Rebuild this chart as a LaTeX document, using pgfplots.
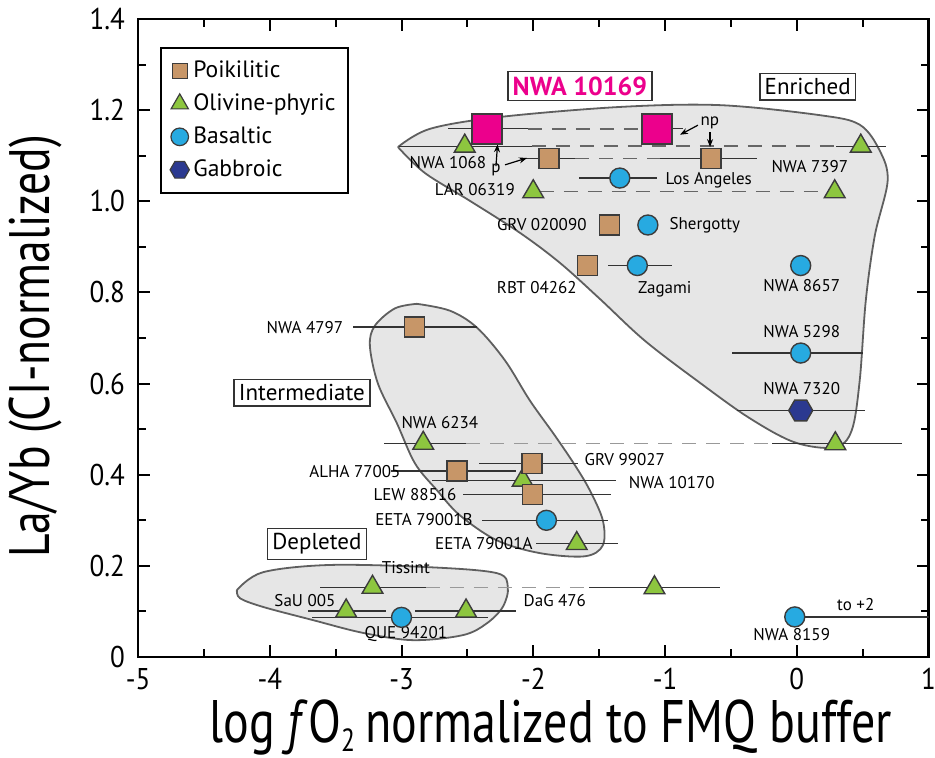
\documentclass[border=0pt]{standalone}
\usepackage{fontspec}
\setmainfont{PT Sans}
\newfontfamily\condfont[FakeStretch=0.9]{PT Sans}
\newfontfamily\labfont[FakeStretch=0.8]{PT Sans}
\usepackage{pgfplots}
\pgfplotsset{compat=1.18}
\usetikzlibrary{arrows.meta}
\definecolor{tanc}{RGB}{199,150,104}
\definecolor{greenc}{RGB}{141,198,63}
\definecolor{bluec}{RGB}{39,170,225}
\definecolor{navyc}{RGB}{43,57,144}
\definecolor{pinkc}{RGB}{236,0,140}
\definecolor{regionfill}{RGB}{230,230,230}
\definecolor{regionedge}{RGB}{95,95,95}
\definecolor{outl}{RGB}{60,60,60}
\pgfdeclareplotmark{hexagon}{%
  \pgfpathmoveto{\pgfpointpolar{0}{\pgfplotmarksize}}%
  \pgfpathlineto{\pgfpointpolar{60}{\pgfplotmarksize}}%
  \pgfpathlineto{\pgfpointpolar{120}{\pgfplotmarksize}}%
  \pgfpathlineto{\pgfpointpolar{180}{\pgfplotmarksize}}%
  \pgfpathlineto{\pgfpointpolar{240}{\pgfplotmarksize}}%
  \pgfpathlineto{\pgfpointpolar{300}{\pgfplotmarksize}}%
  \pgfpathclose
  \pgfusepathqfillstroke}
\begin{document}
\begin{tikzpicture}
\path[use as bounding box] (-69pt,-50pt) rectangle (398.5pt,328.5pt);
\begin{axis}[
  at={(0,0)}, anchor=south west,
  scale only axis, width=395.25pt, height=319pt,
  xmin=-5, xmax=1, ymin=0, ymax=1.4,
  xtick={-5,-4,-3,-2,-1,0,1},
  xticklabels={-5,-4,-3,-2,-1,0,1},
  ytick={0,0.2,0.4,0.6,0.8,1.0,1.2,1.4},
  yticklabels={0,0.2,0.4,0.6,0.8,1.0,1.2,1.4},
  minor x tick num=1, minor y tick num=1,
  tick align=inside,
  major tick length=6pt, minor tick length=4pt,
  axis line style={line width=1.1pt},
  tick style={line width=1pt, black},
  ticklabel style={font=\condfont\fontsize{15}{15}\selectfont},
  xticklabel style={yshift=-2pt},
  yticklabel style={xshift=-3pt},
  xlabel={log \textit{f}O\raisebox{-4.5pt}{\fontsize{16}{16}\selectfont 2}\,normalized to FMQ buffer},
  ylabel={La/Yb (CI-normalized)},
  xlabel style={font=\labfont\fontsize{30}{30}\selectfont, at={(rel axis cs:0.522,0)}, anchor=base, yshift=-42.5pt},
  ylabel style={font=\labfont\fontsize{28.5}{28.5}\selectfont, at={(rel axis cs:0,0.487)}, anchor=center, yshift=51.5pt},
  legend style={at={(rel axis cs:0.028,0.956)}, anchor=north west,
    draw=black, line width=1pt, font=\fontsize{11.8}{13}\selectfont,
    row sep=2.6pt, inner sep=4.5pt, cells={anchor=west}},
  legend cell align=left,
  error bars/error bar style={line width=0.6pt, black!80},
]
% legend
\addlegendimage{only marks, mark=square*, mark size=3.8pt, mark options={fill=tanc, draw=outl, line width=0.6pt}}
\addlegendentry{Poikilitic}
\addlegendimage{only marks, mark=triangle*, mark size=5pt, mark options={fill=greenc, draw=outl, line width=0.6pt}}
\addlegendentry{Olivine-phyric}
\addlegendimage{only marks, mark=*, mark size=4.4pt, mark options={fill=bluec, draw=outl, line width=0.6pt}}
\addlegendentry{Basaltic}
\addlegendimage{only marks, mark=hexagon, mark size=4.8pt, mark options={fill=navyc, draw=outl, line width=0.6pt}}
\addlegendentry{Gabbroic}

% regions
\addplot[forget plot, draw=regionedge, line width=0.9pt, fill=regionfill, smooth, tension=0.55] coordinates {
 (-3.027,1.119) (-2.822,1.062) (-2.481,1.001) (-2.102,0.931) (-1.798,0.865)
 (-1.495,0.786) (-1.153,0.694) (-0.736,0.602) (-0.357,0.524) (-0.015,0.471)
 (0.288,0.460) (0.417,0.497) (0.478,0.607) (0.524,0.782) (0.592,0.924)
 (0.690,1.045) (0.630,1.111) (0.478,1.168) (0.175,1.189) (-0.584,1.211)
 (-1.343,1.207) (-2.253,1.185) (-2.784,1.159) (-3.027,1.119)};
\addplot[forget plot, draw=regionedge, line width=0.9pt, fill=regionfill, smooth, tension=0.55] coordinates {
 (-2.883,0.775) (-2.633,0.760) (-2.428,0.723) (-2.215,0.651) (-2.026,0.563)
 (-1.836,0.486) (-1.684,0.421) (-1.571,0.366) (-1.472,0.300) (-1.472,0.245)
 (-1.609,0.221) (-1.950,0.228) (-2.276,0.256) (-2.557,0.311) (-2.731,0.366)
 (-2.898,0.425) (-3.035,0.513) (-3.179,0.600) (-3.240,0.683) (-3.202,0.727)
 (-3.050,0.765) (-2.883,0.775)};
\addplot[forget plot, draw=regionedge, line width=0.9pt, fill=regionfill, smooth, tension=0.55] coordinates {
 (-4.249,0.147) (-4.052,0.186) (-3.543,0.202) (-2.785,0.197) (-2.276,0.184)
 (-2.193,0.153) (-2.231,0.110) (-2.352,0.074) (-2.534,0.048) (-2.914,0.037)
 (-3.293,0.053) (-3.672,0.081) (-4.052,0.110) (-4.226,0.129) (-4.249,0.147)};

% dashed connectors
\pgfplotsset{dashline/.style={forget plot, line width=0.7pt, black!60, dash pattern=on 7pt off 5pt}}
\addplot[dashline] coordinates {(-2.04,1.159) (-1.17,1.159)};
\addplot[dashline] coordinates {(-2.01,1.121) (0.30,1.121)};
\addplot[dashline] coordinates {(-1.68,1.094) (-1.04,1.094)};
\addplot[dashline] coordinates {(-1.95,1.021) (0.24,1.021)};
\addplot[dashline, black!40] coordinates {(-2.51,0.469) (-0.19,0.469)};
\addplot[dashline, black!40] coordinates {(-2.815,0.153) (-1.58,0.153)};

% Olivine-phyric
\addplot[forget plot, only marks, mark=triangle*, mark size=6pt,
  mark options={fill=greenc, draw=outl, line width=0.7pt},
  error bars/.cd, x dir=both, x explicit, error mark=none] coordinates {
 (-2.52,1.121) -= (0.50,0) += (0.51,0)
 (0.486,1.121) -= (0.19,0) += (0.19,0)
 (-2.00,1.021) -= (0,0) += (0,0)
 (0.288,1.021) -= (0,0) += (0,0)
 (-2.835,0.469) -= (0.295,0) += (0.325,0)
 (0.293,0.468) -= (0.483,0) += (0.507,0)
 (-2.08,0.388) -= (0.69,0) += (0.71,0)
 (-1.67,0.249) -= (0.31,0) += (0.31,0)
 (-3.22,0.153) -= (0.40,0) += (0.405,0)
 (-1.08,0.152) -= (0.50,0) += (0.50,0)
 (-3.42,0.101) -= (0.29,0) += (0.30,0)
 (-2.51,0.101) -= (0.39,0) += (0.38,0)
};
% Poikilitic
\addplot[forget plot, only marks, mark=square*, mark size=5pt,
  mark options={fill=tanc, draw=outl, line width=0.7pt},
  error bars/.cd, x dir=both, x explicit, error mark=none] coordinates {
 (-1.88,1.094) -= (0.22,0) += (0.20,0)
 (-0.65,1.094) -= (0.39,0) += (0.35,0)
 (-1.42,0.948) -= (0,0) += (0,0)
 (-1.59,0.859) -= (0,0) += (0,0)
 (-2.90,0.724) -= (0.47,0) += (0.47,0)
 (-2.58,0.408) -= (0.50,0) += (0.45,0)
 (-2.01,0.424) -= (0.40,0) += (0.35,0)
 (-2.005,0.356) -= (0.525,0) += (0.595,0)
};
% Basaltic
\addplot[forget plot, only marks, mark=*, mark size=5pt,
  mark options={fill=bluec, draw=outl, line width=0.7pt},
  error bars/.cd, x dir=both, x explicit, error mark=none] coordinates {
 (-1.343,1.051) -= (0.307,0) += (0.283,0)
 (-1.13,0.948) -= (0,0) += (0,0)
 (-1.21,0.859) -= (0.22,0) += (0.26,0)
 (0.03,0.859) -= (0,0) += (0,0)
 (0.03,0.667) -= (0.52,0) += (0.47,0)
 (-1.90,0.300) -= (0.49,0) += (0.47,0)
 (-3.0,0.087) -= (0.68,0) += (0.66,0)
 (-0.015,0.088) -= (0,0) += (2.015,0)
};
% Gabbroic
\addplot[forget plot, only marks, mark=hexagon, mark size=6pt,
  mark options={fill=navyc, draw=outl, line width=0.7pt},
  error bars/.cd, x dir=both, x explicit, error mark=none] coordinates {
 (0.03,0.541) -= (0.48,0) += (0.49,0)
};
% NWA 10169
\addplot[forget plot, only marks, mark=square*, mark size=7.5pt,
  mark options={fill=pinkc, draw=outl, line width=0.7pt},
  error bars/.cd, x dir=both, x explicit, error mark=none] coordinates {
 (-2.35,1.159) -= (0.30,0) += (0.31,0)
 (-1.06,1.159) -= (0.11,0) += (0.20,0)
};

% arrows
\draw[-{Stealth[length=4pt,width=3pt]}, line width=0.6pt] (axis cs:-2.283,1.077) -- (axis cs:-2.271,1.125);
\draw[-{Stealth[length=4pt,width=3pt]}, line width=0.6pt] (axis cs:-2.214,1.080) -- (axis cs:-2.047,1.095);
\draw[-{Stealth[length=4pt,width=3pt]}, line width=0.6pt] (axis cs:-0.750,1.167) -- (axis cs:-0.886,1.146);
\draw[-{Stealth[length=4pt,width=3pt]}, line width=0.6pt] (axis cs:-0.658,1.152) -- (axis cs:-0.658,1.119);

% labels
\begin{scope}[every node/.style={font=\fontsize{8.5}{10}\selectfont, inner sep=1pt}]
\node at (axis cs:-2.648,1.084) {NWA 1068};
\node at (axis cs:-2.283,1.068) {p};
\node at (axis cs:-0.660,1.172) {np};
\node at (axis cs:0.099,1.076) {NWA 7397};
\node at (axis cs:-2.443,1.025) {LAR 06319};
\node at (axis cs:-0.668,1.047) {Los Angeles};
\node at (axis cs:-1.935,0.948) {GRV 020090};
\node at (axis cs:-0.698,0.948) {Shergotty};
\node at (axis cs:-1.973,0.811) {RBT 04262};
\node at (axis cs:-1.001,0.806) {Zagami};
\node at (axis cs:0.038,0.815) {NWA 8657};
\node at (axis cs:0.038,0.714) {NWA 5298};
\node at (axis cs:0.038,0.589) {NWA 7320};
\node at (axis cs:-3.733,0.723) {NWA 4797};
\node at (axis cs:-2.709,0.515) {NWA 6234};
\node at (axis cs:-3.354,0.407) {ALHA 77005};
\node at (axis cs:-1.305,0.434) {GRV 99027};
\node at (axis cs:-0.948,0.383) {NWA 10170};
\node at (axis cs:-2.898,0.357) {LEW 88516};
\node at (axis cs:-2.830,0.302) {EETA 79001B};
\node at (axis cs:-2.375,0.250) {EETA 79001A};
\node at (axis cs:-2.967,0.197) {Tissint};
\node at (axis cs:-3.733,0.123) {SaU 005};
\node at (axis cs:-1.836,0.123) {DaG 476};
\node at (axis cs:-2.967,0.050) {QUE 94201};
\node at (axis cs:-0.038,0.050) {NWA 8159};
\node at (axis cs:0.448,0.116) {to +2};
\end{scope}
\node[draw=black!80, line width=0.8pt, inner sep=2.5pt, text=pinkc, font=\bfseries\fontsize{13}{15}\selectfont] at (axis cs:-1.646,1.253) {NWA 10169};
\node[draw=black!80, line width=0.8pt, inner sep=2.5pt, font=\fontsize{11.5}{13}\selectfont] at (axis cs:0.083,1.251) {Enriched};
\node[draw=black!80, line width=0.8pt, inner sep=2.5pt, font=\fontsize{11.5}{13}\selectfont] at (axis cs:-3.756,0.580) {Intermediate};
\node[draw=black!80, line width=0.8pt, inner sep=2.5pt, font=\fontsize{11.5}{13}\selectfont] at (axis cs:-3.642,0.248) {Depleted};
\end{axis}
\end{tikzpicture}
\end{document}
